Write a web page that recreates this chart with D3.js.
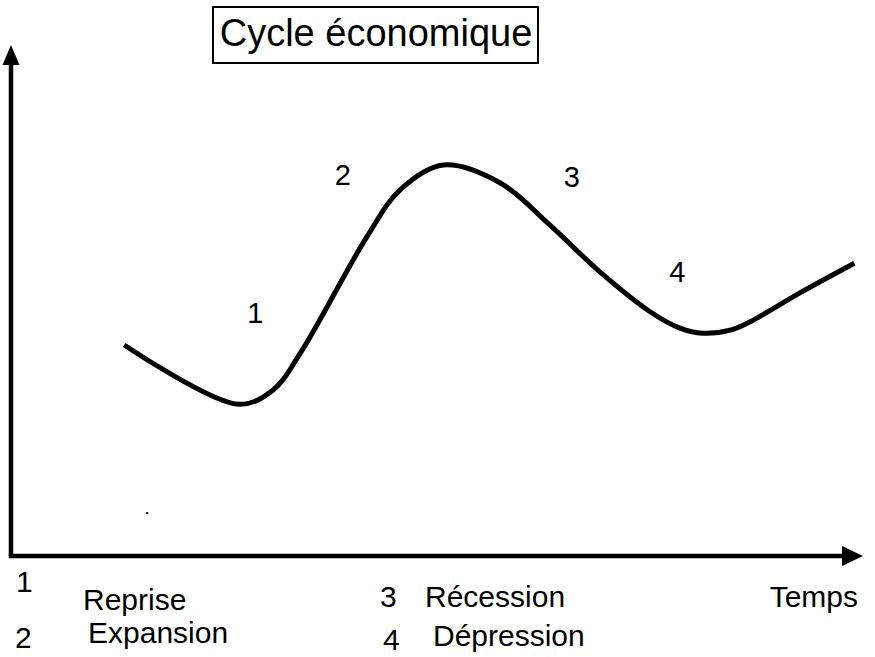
<!DOCTYPE html>
<html>
<head>
<meta charset="utf-8">
<script src="https://cdn.jsdelivr.net/npm/d3@7"></script>
<style>
  body { margin: 0; background: #fff; }
  text { font-family: "Liberation Sans", Arial, sans-serif; fill: #000; }
</style>
</head>
<body>
<div id="chart"></div>
<script>
// curve of the cycle (time, activity level)
var cycleTime = [13.3, 26.7, 30.8, 34.0, 41.8, 45.7, 50.8, 57.5, 63.3, 69.2, 75.1, 78.6, 81.3, 84.5, 86.8, 92.7, 99.1];
var cycleLevel = [41.3, 29.7, 32.5, 39.7, 62.4, 71.6, 76.5, 73.0, 64.8, 55.6, 47.8, 44.6, 43.6, 44.2, 45.8, 51.5, 57.3];

// phase numbers placed along the curve
var phaseNums = ["1", "2", "3", "4"];
var phaseTime = [28.7, 39.0, 65.9, 78.3];
var phaseLevel = [47.5, 74.5, 74.1, 55.6];

// legend
var legendNums = ["1", "2", "3", "4"];
var legendNames = ["Reprise", "Expansion", "Récession", "Dépression"];

var title = "Cycle économique";
var xLabel = "Temps";

var svgWidth = 875;
var svgHeight = 657;

var svg = d3.select("#chart")
  .append("svg")
  .attr("width", svgWidth)
  .attr("height", svgHeight);

var x = d3.scaleLinear().domain([0, 100]).range([11, 862]);
var y = d3.scaleLinear().domain([0, 100]).range([556, 45]);

// axes (no ticks), with arrow heads
var axisG = svg.append("g");
axisG.append("line")
  .attr("x1", x(0)).attr("y1", y(0))
  .attr("x2", x(0)).attr("y2", y(100) + 18)
  .attr("stroke", "#000").attr("stroke-width", 4.5);
axisG.append("line")
  .attr("x1", x(0) - 2.25).attr("y1", y(0))
  .attr("x2", x(100) - 18).attr("y2", y(0))
  .attr("stroke", "#000").attr("stroke-width", 4.5);
axisG.append("path")
  .attr("d", `M${x(0)},${y(100)} L${x(0) + 8.5},${y(100) + 20} L${x(0) - 8.5},${y(100) + 20} Z`)
  .attr("fill", "#000");
axisG.append("path")
  .attr("d", `M${x(100) + 1},${y(0)} L${x(100) - 20},${y(0) - 10} L${x(100) - 20},${y(0) + 10} Z`)
  .attr("fill", "#000");

// stray dot
svg.append("rect")
  .attr("x", x(16.0) - 1).attr("y", y(8.4) - 1)
  .attr("width", 2).attr("height", 2)
  .attr("fill", "#000");

// the curve
var pts = cycleTime.map((t, i) => [t, cycleLevel[i]]);
var line = d3.line()
  .x(d => x(d[0]))
  .y(d => y(d[1]))
  .curve(d3.curveCatmullRom.alpha(0.5));

svg.append("path")
  .datum(pts)
  .attr("d", line)
  .attr("fill", "none")
  .attr("stroke", "#000")
  .attr("stroke-width", 5);

// phase numbers
svg.selectAll(".phase")
  .data(phaseNums)
  .enter()
  .append("text")
  .attr("class", "phase")
  .attr("x", (d, i) => x(phaseTime[i]))
  .attr("y", (d, i) => y(phaseLevel[i]) + 10)
  .attr("text-anchor", "middle")
  .style("font-size", "29px")
  .text(d => d);

// title in a box
svg.append("rect")
  .attr("x", 213).attr("y", 7)
  .attr("width", 325).attr("height", 56)
  .attr("fill", "none")
  .attr("stroke", "#000")
  .attr("stroke-width", 2);
svg.append("text")
  .attr("x", 376).attr("y", 46)
  .attr("text-anchor", "middle")
  .style("font-size", "38px")
  .text(title);

// x label
svg.append("text")
  .attr("x", 858).attr("y", 607)
  .attr("text-anchor", "end")
  .style("font-size", "30px")
  .text(xLabel);

// legend
var numX = [16, 15, 380, 383];
var numY = [592, 648, 607, 650];
var nameX = [83, 88, 425, 433];
var nameY = [610, 643, 607, 646];

svg.selectAll(".legnum")
  .data(legendNums)
  .enter()
  .append("text")
  .attr("class", "legnum")
  .attr("x", (d, i) => numX[i])
  .attr("y", (d, i) => numY[i])
  .style("font-size", "30px")
  .text(d => d);

svg.selectAll(".legname")
  .data(legendNames)
  .enter()
  .append("text")
  .attr("class", "legname")
  .attr("x", (d, i) => nameX[i])
  .attr("y", (d, i) => nameY[i])
  .style("font-size", "30px")
  .text(d => d);
</script>
</body>
</html>
